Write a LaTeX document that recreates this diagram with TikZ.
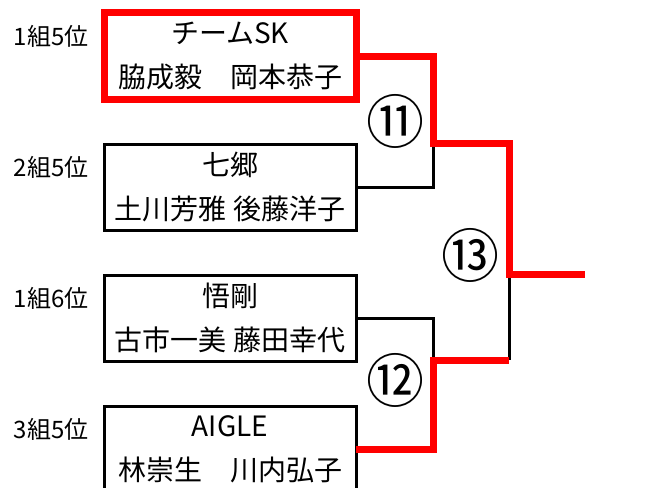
\documentclass[tikz,border=0pt]{standalone}
\usepackage{fontspec}
\setmainfont{Noto Sans CJK JP}
\usetikzlibrary{positioning}

\begin{document}
\begin{tikzpicture}[x=1pt,y=-1pt,node distance=45pt,
	team/.style={draw, line width=3pt, minimum width=252pt, minimum height=86pt, inner sep=0pt, outer sep=0pt, align=center, font=\fontsize{28}{44}\selectfont},
	winbox/.style={draw=red, line width=7pt},
	seed/.style={font=\fontsize{24}{24}\selectfont},
	matchno/.style={font=\fontsize{58}{58}\selectfont, inner sep=0pt},
	lose/.style={line width=3pt},
	win/.style={draw=red, line width=7pt}]
	\useasboundingbox (0,0) rectangle (652,487);
	
	\node[team, winbox] (1) at (230,56) {チームSK\\脇成毅　岡本恭子};
	\node[team] (2) [below=of 1] {七郷\\土川芳雅 後藤洋子};
	\node[team] (3) [below=of 2] {悟剛\\古市一美 藤田幸代};
	\node[team] (4) [below=of 3] {AIGLE\\林崇生　川内弘子};
	
	\node[seed] (s1) [left=12pt of 1, yshift=20pt] {1組5位};
	\node[seed] (s2) [left=12pt of 2, yshift=20pt] {2組5位};
	\node[seed] (s3) [left=12pt of 3, yshift=20pt] {1組6位};
	\node[seed] (s4) [left=12pt of 4, yshift=20pt] {3組5位};
	
	\coordinate (m11) at (433,143);
	\coordinate (m12) at (433,360);
	\coordinate (m13) at (509,274);
	\coordinate (final) at (585,274);
	
	\node[matchno] (n11) at (395,121) {⑪};
	\node[matchno] (n12) at (395,380) {⑫};
	\node[matchno] (n13) at (470,255) {⑬};
	
	\draw[lose] (2.east) -| (m11);
	\draw[lose] (3.east) -| (m12);
	\draw[lose] (m12 -| m13) -- (m13);
	
	\draw[win] (1.east) -| (m11) -| (m13) -- (final);
	\draw[win] (4.east) -| (m12) -- (m12 -| m13);
	
\end{tikzpicture}
\end{document}
